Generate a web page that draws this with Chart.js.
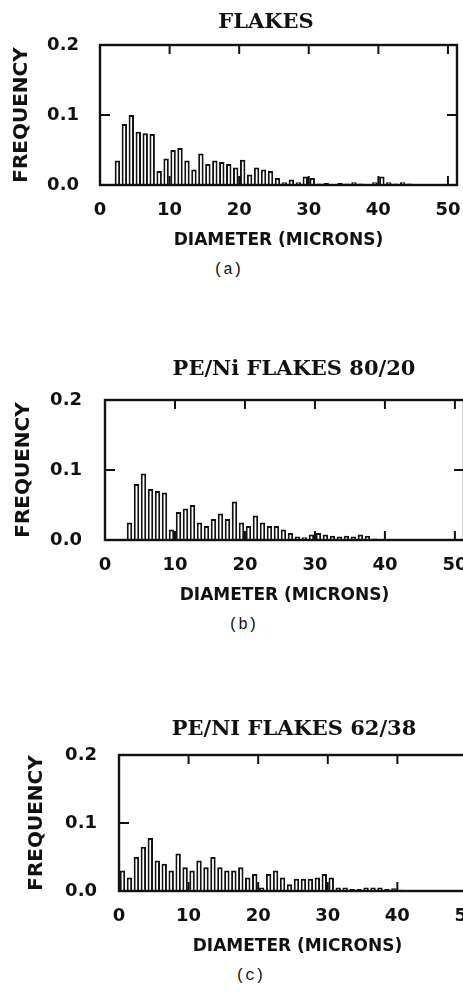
<!DOCTYPE html>
<html><head><meta charset="utf-8">
<script src="https://cdn.jsdelivr.net/npm/chart.js@4.4.1/dist/chart.umd.min.js"></script>
<style>
html,body{margin:0;padding:0;background:#fff;}
body{width:463px;height:1000px;overflow:hidden;position:relative;}
canvas{position:absolute;left:0;display:block;}
.cap{position:absolute;font-family:'Liberation Mono','DejaVu Sans Mono',monospace;font-size:16px;color:#111;transform:translateX(-50%);white-space:nowrap;line-height:20px;}
</style></head><body>
<canvas id="ca"></canvas><canvas id="cb"></canvas><canvas id="cc"></canvas>
<div class="cap" id="capa"></div><div class="cap" id="capb"></div><div class="cap" id="capc"></div>
<script>
// ---- text ----
const titleA = 'FLAKES';
const titleB = 'PE/Ni FLAKES 80/20';
const titleC = 'PE/NI FLAKES 62/38';
const captionA = '(a)', captionB = '(b)', captionC = '(c)';
const xAxisTitle = 'DIAMETER (MICRONS)';
const yAxisTitle = 'FREQUENCY';
const xTickStep = 10;
const yTickStep = 0.1;

// ---- data: bin centres (microns) and frequencies ----
const diamA = [2.5,3.5,4.5,5.5,6.5,7.5,8.5,9.5,10.5,11.5,12.5,13.5,14.5,15.5,16.5,17.5,18.5,19.5,20.5,21.5,22.5,23.5,24.5,25.5,26.5,27.5,28.5,29.5,30.5,31.5,32.5,33.5,34.5,35.5,36.5,37.5,38.5,39.5,40.5,41.5,42.5,43.5,44.5];
const freqA = [0.035,0.087,0.100,0.076,0.074,0.073,0.020,0.038,0.050,0.053,0.035,0.022,0.045,0.030,0.035,0.033,0.030,0.025,0.036,0.015,0.025,0.022,0.020,0.010,0.004,0.008,0.004,0.012,0.010,0.002,0.003,0.001,0.003,0.002,0.004,0.002,0.001,0.004,0.012,0.004,0.002,0.004,0.002];

const diamB = [3.5,4.5,5.5,6.5,7.5,8.5,9.5,10.5,11.5,12.5,13.5,14.5,15.5,16.5,17.5,18.5,19.5,20.5,21.5,22.5,23.5,24.5,25.5,26.5,27.5,28.5,29.5,30.5,31.5,32.5,33.5,34.5,35.5,36.5,37.5,38.5];
const freqB = [0.025,0.080,0.095,0.073,0.070,0.068,0.015,0.040,0.045,0.050,0.025,0.020,0.030,0.038,0.030,0.055,0.025,0.020,0.035,0.025,0.020,0.020,0.015,0.010,0.005,0.004,0.008,0.010,0.008,0.006,0.005,0.006,0.005,0.008,0.006,0.002];

const diamC = [0.5,1.5,2.5,3.5,4.5,5.5,6.5,7.5,8.5,9.5,10.5,11.5,12.5,13.5,14.5,15.5,16.5,17.5,18.5,19.5,20.5,21.5,22.5,23.5,24.5,25.5,26.5,27.5,28.5,29.5,30.5,31.5,32.5,33.5,34.5,35.5,36.5,37.5,38.5,39.5,40.5];
const freqC = [0.030,0.020,0.050,0.065,0.078,0.045,0.040,0.030,0.055,0.035,0.030,0.045,0.035,0.050,0.035,0.030,0.030,0.035,0.020,0.025,0.005,0.025,0.030,0.020,0.010,0.018,0.018,0.018,0.020,0.025,0.020,0.005,0.005,0.003,0.003,0.005,0.005,0.005,0.003,0.004,0.002];

// ---- drawing ----
const INK = '#111';
const frame = {
  id: 'frame',
  afterDraw(chart) {
    const {ctx, chartArea: a, scales: {x, y}} = chart;
    ctx.save();
    ctx.strokeStyle = INK;
    ctx.lineWidth = 2.4;
    ctx.strokeRect(a.left, a.top, a.right - a.left, a.bottom - a.top);
    ctx.lineWidth = 2;
    const seg = (x1, y1, x2, y2) => { ctx.beginPath(); ctx.moveTo(x1, y1); ctx.lineTo(x2, y2); ctx.stroke(); };
    x.ticks.forEach(t => {
      if (t.value <= 0) return;
      const px = x.getPixelForValue(t.value);
      seg(px, a.top, px, a.top + 9);
      seg(px, a.bottom, px, a.bottom - 9);
    });
    y.ticks.forEach(t => {
      if (t.value <= 1e-9 || t.value >= y.max - 1e-9) return;
      const py = y.getPixelForValue(t.value);
      seg(a.left, py, a.left + 10, py);
      seg(a.right, py, a.right - 10, py);
    });
    ctx.restore();
  }
};

function makePanel(id, title, xs, ys, L) {
  const cv = document.getElementById(id);
  const W = Math.round(L.titleCenterX * 2);
  const H = Math.round(L.chartBottom - L.canvasTop + L.xBox);
  cv.width = W; cv.height = H;
  cv.style.width = W + 'px'; cv.style.height = H + 'px';
  cv.style.top = L.canvasTop + 'px';
  const tickFont = {family: 'DejaVu Sans', size: 18, weight: 'bold'};
  new Chart(cv, {
    type: 'bar',
    data: {datasets: [{
      data: xs.map((v, i) => ({x: v, y: ys[i]})),
      backgroundColor: '#fff', borderColor: INK, borderWidth: 2,
      barPercentage: 0.78, categoryPercentage: 1
    }]},
    options: {
      responsive: false, animation: false, devicePixelRatio: 1,
      layout: {padding: 0},
      plugins: {
        legend: {display: false}, tooltip: {enabled: false},
        title: {display: true, text: title, color: INK,
          font: {family: 'DejaVu Serif', size: 21, weight: 'bold'},
          padding: {top: L.tPadTop, bottom: L.tPadBottom}}
      },
      scales: {
        x: {type: 'linear', min: 0, max: 51.3, offset: false,
          grid: {display: false, offset: false}, border: {display: false},
          ticks: {stepSize: xTickStep, includeBounds: false, autoSkip: false, maxRotation: 0,
            padding: 7, color: INK, font: tickFont, callback: v => String(Math.round(v))},
          title: {display: true, text: xAxisTitle, color: INK,
            font: {family: 'DejaVu Sans', size: 17, weight: 'bold'}, padding: {top: 0, bottom: L.xTitlePad}},
          afterFit(s) { s.height = L.xBox; }
        },
        y: {min: 0, max: 0.2,
          grid: {display: false}, border: {display: false},
          ticks: {stepSize: yTickStep, padding: L.yTickPad, color: INK, font: tickFont,
            callback: v => Number(v).toFixed(1)},
          title: {display: true, text: yAxisTitle, color: INK,
            font: {family: 'DejaVu Sans', size: 20, weight: 'bold'}, padding: {top: L.yTitleX - 12, bottom: 0}},
          afterFit(s) { s.width = L.chartLeft; }
        },
        y2: {position: 'right', display: true, min: 0, max: 1,
          grid: {display: false}, border: {display: false}, ticks: {display: false},
          afterFit(s) { s.width = W - L.chartRight; }
        }
      }
    },
    plugins: [frame]
  });
}

makePanel('ca', titleA, diamA, freqA, {canvasTop: 0, chartLeft: 100, chartRight: 457, chartBottom: 185,
  titleCenterX: 266, tPadTop: 10.4, tPadBottom: 9.4, xBox: 70, xTitlePad: 3.8, yTickPad: 13, yTitleX: 22});
makePanel('cb', titleB, diamB, freqB, {canvasTop: 352, chartLeft: 105, chartRight: 464, chartBottom: 540,
  titleCenterX: 294, tPadTop: 5.4, tPadBottom: 17.4, xBox: 70, xTitlePad: 3.8, yTickPad: 15, yTitleX: 24});
makePanel('cc', titleC, diamC, freqC, {canvasTop: 712, chartLeft: 119, chartRight: 476, chartBottom: 891,
  titleCenterX: 294, tPadTop: 5.4, tPadBottom: 12.4, xBox: 70, xTitlePad: 3.8, yTickPad: 14, yTitleX: 37});

function caption(id, text, cx, cy) {
  const el = document.getElementById(id);
  el.textContent = text;
  el.style.left = cx + 'px';
  el.style.top = (cy - 10) + 'px';
}
caption('capa', captionA, 228, 270);
caption('capb', captionB, 243, 625);
caption('capc', captionC, 250, 976);
</script>
</body></html>
